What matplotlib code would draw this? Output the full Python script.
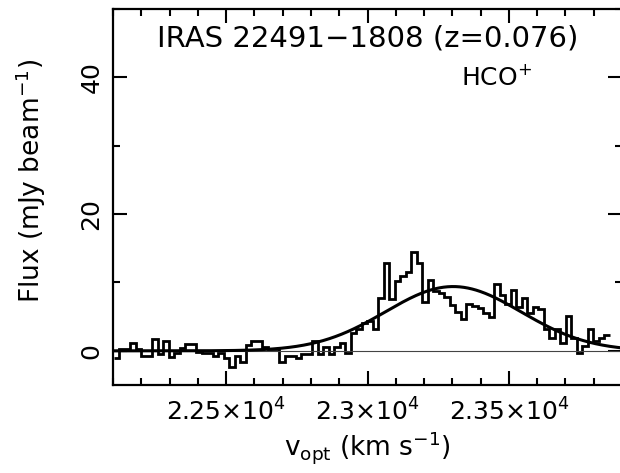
import numpy as np
import matplotlib
matplotlib.use("Agg")
import matplotlib.pyplot as plt
from matplotlib.ticker import FixedLocator, MultipleLocator, FixedFormatter

plt.rcParams["font.family"] = "DejaVu Sans"
plt.rcParams["mathtext.fontset"] = "dejavusans"

# channel grid (km/s)
V_START = 22102.0
DV = 19.5

# HCO+ spectrum, mJy/beam, one value per channel
flux = [
    -1.1, 0.2, 0.3, 1.2, 0.25, -0.8, -0.8, 1.75, -0.45, 1.4,
    -0.9, -0.35, 0.4, 1.0, 1.0, -0.1, -0.35, -0.35, -0.8, -0.3,
    -1.1, -2.4, -0.8, -1.6, 0.9, 1.5, 1.5, 0.6, 0.25, 0.25,
    -1.6, -0.7, -0.7, -1.1, -0.45, -0.45, 1.4, -0.4, 0.5, -0.5,
    0.5, 1.1, -0.25,
    2.6, 3.2, 4.1, 4.4, 3.2, 7.7, 12.8, 7.6, 10.2, 10.9,
    11.5, 14.5, 12.8, 7.2, 10.4, 8.8, 8.4, 7.9,
    6.7, 5.7, 4.6, 6.8, 6.6, 6.2, 5.5, 4.9, 9.8, 8.2,
    6.9, 8.9, 6.4, 7.7, 5.5, 6.4, 6.1, 3.2, 1.85, 3.2,
    1.2, 5.1, 1.85, -0.35, 0.7, 3.2, 1.4, 1.85, 2.35,
]

# gaussian fit
FIT_AMP = 9.4
FIT_CENTER = 23303.0
FIT_SIGMA = 240.0

x_ticks = [22500, 23000, 23500]
x_ticklabels = [r"$2.25{\times}10^{4}$", r"$2.3{\times}10^{4}$", r"$2.35{\times}10^{4}$"]
y_ticks = [0, 20, 40]

edges = V_START + DV * np.arange(len(flux) + 1)
v_fit = np.linspace(22100, 23900, 500)
fit = FIT_AMP * np.exp(-0.5 * ((v_fit - FIT_CENTER) / FIT_SIGMA) ** 2)

fig = plt.figure(figsize=(6.2, 4.73), dpi=100)
ax = fig.add_axes([113 / 620, 88 / 473, 509 / 620, 376 / 473])

ax.axhline(0, color="#444444", linewidth=0.8)
ax.stairs(flux, edges, baseline=None, color="black", linewidth=2.0)
ax.plot(v_fit, fit, color="black", linewidth=2.2)

ax.set_xlim(22100, 23900)
ax.set_ylim(-5, 50)

ax.xaxis.set_major_locator(FixedLocator(x_ticks))
ax.xaxis.set_major_formatter(FixedFormatter(x_ticklabels))
ax.xaxis.set_minor_locator(MultipleLocator(100))
ax.yaxis.set_major_locator(FixedLocator(y_ticks))
ax.yaxis.set_minor_locator(MultipleLocator(10))

ax.tick_params(which="both", direction="in", top=True, right=True, width=1.5, labelsize=18)
ax.tick_params(which="major", length=10)
ax.tick_params(which="minor", length=5)
ax.tick_params(axis="x", pad=10)
ax.tick_params(axis="y", pad=7, labelrotation=90)
for lab in ax.get_yticklabels():
    lab.set_va("center")

for s in ax.spines.values():
    s.set_linewidth(1.6)

ax.set_xlabel(r"v$_{\rm opt}$ (km s$^{-1}$)", fontsize=19, labelpad=2)
ax.set_ylabel(r"Flux (mJy beam$^{-1}$)", fontsize=19)
ax.yaxis.set_label_coords(-0.128, 0.543)

ax.text(0.5, 0.96, "IRAS 22491\u22121808 (z=0.076)", transform=ax.transAxes,
        ha="center", va="top", fontsize=21)
ax.text(0.823, 0.85, r"HCO$^{+}$", transform=ax.transAxes,
        ha="right", va="top", fontsize=18)

fig.savefig("out.png", dpi=100)
